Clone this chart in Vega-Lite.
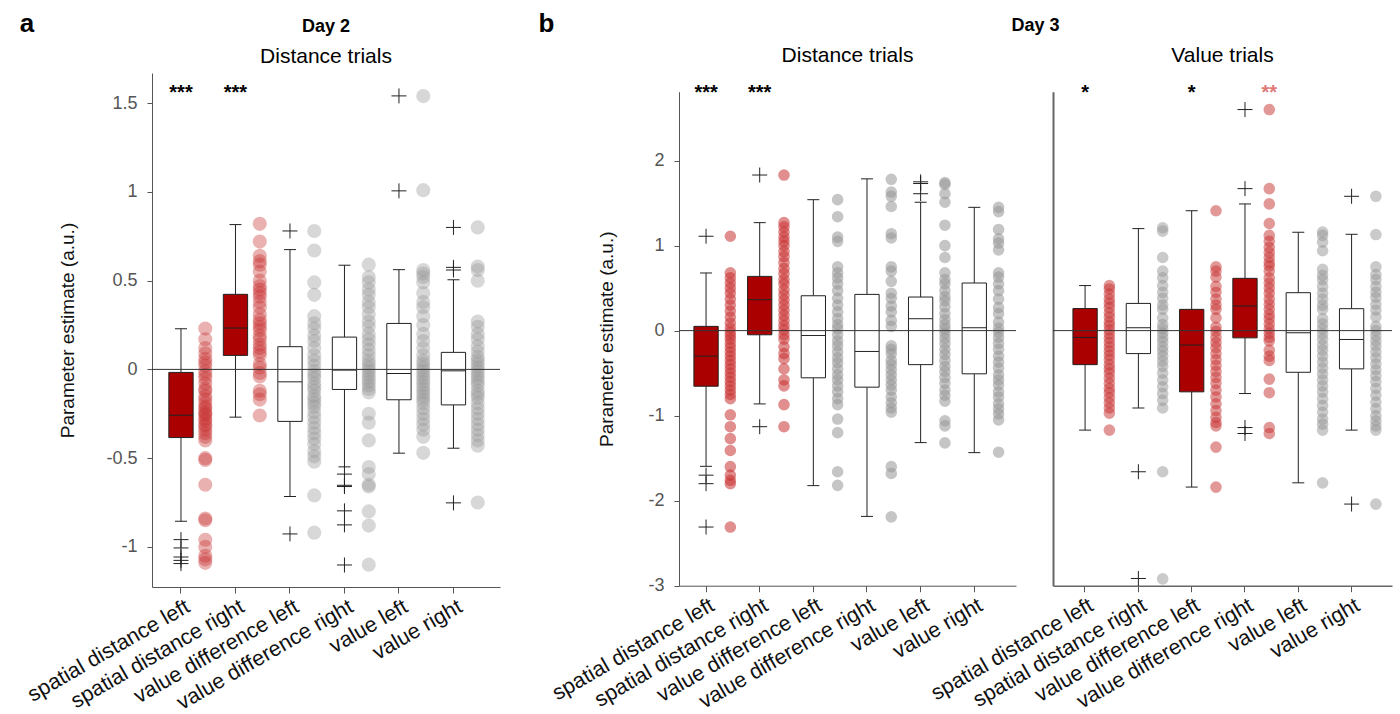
{
"$schema": "https://vega.github.io/schema/vega-lite/v6.json",
"background": "white",
"padding": {"left": 19, "top": 11, "right": 5, "bottom": 2},
"config": {"font": "Liberation Sans", "view": {"stroke": null}, "axis": {"grid": false, "labelLimit": 400}},
"datasets": {
"d2box": [
{"t":"SDL","lo":-0.856,"q1":-0.384,"med":-0.258,"q3":-0.017,"hi":0.229,"sig":"yes"},
{"t":"SDR","lo":-0.269,"q1":0.079,"med":0.233,"q3":0.423,"hi":0.816,"sig":"yes"},
{"t":"VDL","lo":-0.716,"q1":-0.293,"med":-0.07,"q3":0.128,"hi":0.675,"sig":"no"},
{"t":"VDR","lo":-0.549,"q1":-0.113,"med":-0.004,"q3":0.182,"hi":0.587,"sig":"no"},
{"t":"VL","lo":-0.472,"q1":-0.171,"med":-0.023,"q3":0.259,"hi":0.562,"sig":"no"},
{"t":"VR","lo":-0.444,"q1":-0.2,"med":-0.008,"q3":0.096,"hi":0.505,"sig":"no"}],
"d2out": [
{"t":"SDL","v":-0.959},{"t":"SDL","v":-1.006},{"t":"SDL","v":-1.057},{"t":"SDL","v":-1.076},{"t":"SDL","v":-1.094},
{"t":"VDL","v":0.78},{"t":"VDL","v":-0.927},
{"t":"VDR","v":-0.59},{"t":"VDR","v":-0.653},{"t":"VDR","v":-0.66},{"t":"VDR","v":-0.797},{"t":"VDR","v":-0.876},{"t":"VDR","v":-1.102},
{"t":"VL","v":1.541},{"t":"VL","v":1.006},
{"t":"VR","v":0.80},{"t":"VR","v":0.575},{"t":"VR","v":0.56},{"t":"VR","v":-0.752}],
"d2stars": [{"t":"SDL","pos":"box","s":"***"},{"t":"SDR","pos":"box","s":"***"}],
"d2dots": [
{"t":"SDL","v":0.23},{"t":"SDL","v":0.17},{"t":"SDL","v":0.12},{"t":"SDL","v":0.09},{"t":"SDL","v":0.06},{"t":"SDL","v":0.04},{"t":"SDL","v":0.02},{"t":"SDL","v":-0.01},{"t":"SDL","v":-0.03},{"t":"SDL","v":-0.05},{"t":"SDL","v":-0.08},{"t":"SDL","v":-0.11},{"t":"SDL","v":-0.12},{"t":"SDL","v":-0.15},{"t":"SDL","v":-0.17},{"t":"SDL","v":-0.19},{"t":"SDL","v":-0.21},{"t":"SDL","v":-0.22},{"t":"SDL","v":-0.24},{"t":"SDL","v":-0.25},{"t":"SDL","v":-0.26},{"t":"SDL","v":-0.28},{"t":"SDL","v":-0.29},{"t":"SDL","v":-0.31},{"t":"SDL","v":-0.32},{"t":"SDL","v":-0.34},{"t":"SDL","v":-0.36},{"t":"SDL","v":-0.38},{"t":"SDL","v":-0.40},{"t":"SDL","v":-0.50},{"t":"SDL","v":-0.51},{"t":"SDL","v":-0.65},{"t":"SDL","v":-0.84},{"t":"SDL","v":-0.85},{"t":"SDL","v":-0.96},{"t":"SDL","v":-1.0},{"t":"SDL","v":-1.05},{"t":"SDL","v":-1.07},{"t":"SDL","v":-1.09},
{"t":"SDR","v":0.82},{"t":"SDR","v":0.72},{"t":"SDR","v":0.64},{"t":"SDR","v":0.61},{"t":"SDR","v":0.59},{"t":"SDR","v":0.55},{"t":"SDR","v":0.50},{"t":"SDR","v":0.47},{"t":"SDR","v":0.45},{"t":"SDR","v":0.43},{"t":"SDR","v":0.41},{"t":"SDR","v":0.38},{"t":"SDR","v":0.35},{"t":"SDR","v":0.31},{"t":"SDR","v":0.28},{"t":"SDR","v":0.26},{"t":"SDR","v":0.24},{"t":"SDR","v":0.22},{"t":"SDR","v":0.19},{"t":"SDR","v":0.17},{"t":"SDR","v":0.14},{"t":"SDR","v":0.12},{"t":"SDR","v":0.10},{"t":"SDR","v":0.08},{"t":"SDR","v":0.03},{"t":"SDR","v":0.01},{"t":"SDR","v":-0.02},{"t":"SDR","v":-0.04},{"t":"SDR","v":-0.12},{"t":"SDR","v":-0.14},{"t":"SDR","v":-0.17},{"t":"SDR","v":-0.26},
{"t":"VDL","v":0.78},{"t":"VDL","v":0.67},{"t":"VDL","v":0.49},{"t":"VDL","v":0.42},{"t":"VDL","v":0.30},{"t":"VDL","v":0.26},{"t":"VDL","v":0.23},{"t":"VDL","v":0.19},{"t":"VDL","v":0.16},{"t":"VDL","v":0.12},{"t":"VDL","v":0.08},{"t":"VDL","v":0.05},{"t":"VDL","v":0.02},{"t":"VDL","v":-0.01},{"t":"VDL","v":-0.03},{"t":"VDL","v":-0.05},{"t":"VDL","v":-0.08},{"t":"VDL","v":-0.10},{"t":"VDL","v":-0.12},{"t":"VDL","v":-0.15},{"t":"VDL","v":-0.17},{"t":"VDL","v":-0.19},{"t":"VDL","v":-0.21},{"t":"VDL","v":-0.24},{"t":"VDL","v":-0.27},{"t":"VDL","v":-0.30},{"t":"VDL","v":-0.33},{"t":"VDL","v":-0.36},{"t":"VDL","v":-0.39},{"t":"VDL","v":-0.42},{"t":"VDL","v":-0.46},{"t":"VDL","v":-0.49},{"t":"VDL","v":-0.52},{"t":"VDL","v":-0.71},{"t":"VDL","v":-0.92},
{"t":"VDR","v":0.59},{"t":"VDR","v":0.52},{"t":"VDR","v":0.49},{"t":"VDR","v":0.45},{"t":"VDR","v":0.42},{"t":"VDR","v":0.38},{"t":"VDR","v":0.35},{"t":"VDR","v":0.31},{"t":"VDR","v":0.27},{"t":"VDR","v":0.24},{"t":"VDR","v":0.20},{"t":"VDR","v":0.17},{"t":"VDR","v":0.14},{"t":"VDR","v":0.11},{"t":"VDR","v":0.08},{"t":"VDR","v":0.05},{"t":"VDR","v":0.03},{"t":"VDR","v":0.01},{"t":"VDR","v":-0.01},{"t":"VDR","v":-0.03},{"t":"VDR","v":-0.05},{"t":"VDR","v":-0.07},{"t":"VDR","v":-0.09},{"t":"VDR","v":-0.11},{"t":"VDR","v":-0.13},{"t":"VDR","v":-0.25},{"t":"VDR","v":-0.30},{"t":"VDR","v":-0.40},{"t":"VDR","v":-0.55},{"t":"VDR","v":-0.59},{"t":"VDR","v":-0.65},{"t":"VDR","v":-0.66},{"t":"VDR","v":-0.80},{"t":"VDR","v":-0.88},{"t":"VDR","v":-1.10},
{"t":"VL","v":1.54},{"t":"VL","v":1.01},{"t":"VL","v":0.56},{"t":"VL","v":0.54},{"t":"VL","v":0.52},{"t":"VL","v":0.49},{"t":"VL","v":0.43},{"t":"VL","v":0.38},{"t":"VL","v":0.35},{"t":"VL","v":0.30},{"t":"VL","v":0.25},{"t":"VL","v":0.20},{"t":"VL","v":0.16},{"t":"VL","v":0.12},{"t":"VL","v":0.08},{"t":"VL","v":0.05},{"t":"VL","v":0.03},{"t":"VL","v":0.01},{"t":"VL","v":-0.01},{"t":"VL","v":-0.03},{"t":"VL","v":-0.05},{"t":"VL","v":-0.07},{"t":"VL","v":-0.09},{"t":"VL","v":-0.11},{"t":"VL","v":-0.13},{"t":"VL","v":-0.15},{"t":"VL","v":-0.17},{"t":"VL","v":-0.19},{"t":"VL","v":-0.22},{"t":"VL","v":-0.25},{"t":"VL","v":-0.28},{"t":"VL","v":-0.31},{"t":"VL","v":-0.34},{"t":"VL","v":-0.38},{"t":"VL","v":-0.47},
{"t":"VR","v":0.80},{"t":"VR","v":0.58},{"t":"VR","v":0.56},{"t":"VR","v":0.50},{"t":"VR","v":0.27},{"t":"VR","v":0.24},{"t":"VR","v":0.20},{"t":"VR","v":0.17},{"t":"VR","v":0.13},{"t":"VR","v":0.10},{"t":"VR","v":0.07},{"t":"VR","v":0.05},{"t":"VR","v":0.03},{"t":"VR","v":0.01},{"t":"VR","v":-0.01},{"t":"VR","v":-0.03},{"t":"VR","v":-0.05},{"t":"VR","v":-0.07},{"t":"VR","v":-0.09},{"t":"VR","v":-0.12},{"t":"VR","v":-0.14},{"t":"VR","v":-0.16},{"t":"VR","v":-0.19},{"t":"VR","v":-0.22},{"t":"VR","v":-0.25},{"t":"VR","v":-0.28},{"t":"VR","v":-0.31},{"t":"VR","v":-0.34},{"t":"VR","v":-0.37},{"t":"VR","v":-0.40},{"t":"VR","v":-0.43},{"t":"VR","v":-0.75}],
"d3dbox": [
{"t":"SDL","lo":-1.596,"q1":-0.654,"med":-0.30,"q3":0.05,"hi":0.678,"sig":"yes"},
{"t":"SDR","lo":-0.862,"q1":-0.049,"med":0.364,"q3":0.638,"hi":1.27,"sig":"yes"},
{"t":"VDL","lo":-1.823,"q1":-0.555,"med":-0.057,"q3":0.41,"hi":1.54,"sig":"no"},
{"t":"VDR","lo":-2.185,"q1":-0.665,"med":-0.245,"q3":0.426,"hi":1.785,"sig":"no"},
{"t":"VL","lo":-1.317,"q1":-0.40,"med":0.14,"q3":0.395,"hi":1.51,"sig":"no"},
{"t":"VR","lo":-1.435,"q1":-0.508,"med":0.034,"q3":0.56,"hi":1.45,"sig":"no"}],
"d3dout": [
{"t":"SDL","v":1.11},{"t":"SDL","v":-1.70},{"t":"SDL","v":-1.80},{"t":"SDL","v":-2.31},
{"t":"SDR","v":1.83},{"t":"SDR","v":-1.13},
{"t":"VL","v":1.75},{"t":"VL","v":1.73},{"t":"VL","v":1.61}],
"d3dstars": [{"t":"SDL","pos":"box","s":"***"},{"t":"SDR","pos":"box","s":"***"}],
"d3ddots": [
{"t":"SDL","v":1.11},{"t":"SDL","v":0.68},{"t":"SDL","v":0.62},{"t":"SDL","v":0.56},{"t":"SDL","v":0.50},{"t":"SDL","v":0.44},{"t":"SDL","v":0.37},{"t":"SDL","v":0.30},{"t":"SDL","v":0.23},{"t":"SDL","v":0.16},{"t":"SDL","v":0.09},{"t":"SDL","v":0.03},{"t":"SDL","v":-0.02},{"t":"SDL","v":-0.06},{"t":"SDL","v":-0.10},{"t":"SDL","v":-0.15},{"t":"SDL","v":-0.20},{"t":"SDL","v":-0.25},{"t":"SDL","v":-0.30},{"t":"SDL","v":-0.35},{"t":"SDL","v":-0.40},{"t":"SDL","v":-0.45},{"t":"SDL","v":-0.50},{"t":"SDL","v":-0.55},{"t":"SDL","v":-0.60},{"t":"SDL","v":-0.65},{"t":"SDL","v":-0.70},{"t":"SDL","v":-0.75},{"t":"SDL","v":-0.80},{"t":"SDL","v":-0.99},{"t":"SDL","v":-1.13},{"t":"SDL","v":-1.27},{"t":"SDL","v":-1.41},{"t":"SDL","v":-1.60},{"t":"SDL","v":-1.70},{"t":"SDL","v":-1.76},{"t":"SDL","v":-1.80},{"t":"SDL","v":-2.31},
{"t":"SDR","v":1.83},{"t":"SDR","v":1.27},{"t":"SDR","v":1.22},{"t":"SDR","v":1.16},{"t":"SDR","v":1.10},{"t":"SDR","v":1.05},{"t":"SDR","v":1.00},{"t":"SDR","v":0.93},{"t":"SDR","v":0.87},{"t":"SDR","v":0.80},{"t":"SDR","v":0.73},{"t":"SDR","v":0.67},{"t":"SDR","v":0.60},{"t":"SDR","v":0.55},{"t":"SDR","v":0.48},{"t":"SDR","v":0.42},{"t":"SDR","v":0.36},{"t":"SDR","v":0.30},{"t":"SDR","v":0.24},{"t":"SDR","v":0.18},{"t":"SDR","v":0.12},{"t":"SDR","v":0.06},{"t":"SDR","v":0.01},{"t":"SDR","v":-0.05},{"t":"SDR","v":-0.10},{"t":"SDR","v":-0.19},{"t":"SDR","v":-0.27},{"t":"SDR","v":-0.33},{"t":"SDR","v":-0.45},{"t":"SDR","v":-0.58},{"t":"SDR","v":-0.65},{"t":"SDR","v":-0.87},{"t":"SDR","v":-1.13},
{"t":"VDL","v":1.54},{"t":"VDL","v":1.34},{"t":"VDL","v":1.10},{"t":"VDL","v":1.05},{"t":"VDL","v":0.75},{"t":"VDL","v":0.68},{"t":"VDL","v":0.62},{"t":"VDL","v":0.55},{"t":"VDL","v":0.47},{"t":"VDL","v":0.38},{"t":"VDL","v":0.30},{"t":"VDL","v":0.22},{"t":"VDL","v":0.14},{"t":"VDL","v":0.07},{"t":"VDL","v":0.02},{"t":"VDL","v":-0.05},{"t":"VDL","v":-0.12},{"t":"VDL","v":-0.18},{"t":"VDL","v":-0.25},{"t":"VDL","v":-0.32},{"t":"VDL","v":-0.38},{"t":"VDL","v":-0.45},{"t":"VDL","v":-0.52},{"t":"VDL","v":-0.58},{"t":"VDL","v":-0.65},{"t":"VDL","v":-0.72},{"t":"VDL","v":-0.80},{"t":"VDL","v":-0.87},{"t":"VDL","v":-1.04},{"t":"VDL","v":-1.20},{"t":"VDL","v":-1.66},{"t":"VDL","v":-1.82},
{"t":"VDR","v":1.78},{"t":"VDR","v":1.63},{"t":"VDR","v":1.58},{"t":"VDR","v":1.46},{"t":"VDR","v":1.14},{"t":"VDR","v":1.09},{"t":"VDR","v":0.75},{"t":"VDR","v":0.70},{"t":"VDR","v":0.58},{"t":"VDR","v":0.44},{"t":"VDR","v":0.38},{"t":"VDR","v":0.29},{"t":"VDR","v":0.22},{"t":"VDR","v":0.12},{"t":"VDR","v":0.05},{"t":"VDR","v":-0.18},{"t":"VDR","v":-0.22},{"t":"VDR","v":-0.27},{"t":"VDR","v":-0.35},{"t":"VDR","v":-0.40},{"t":"VDR","v":-0.46},{"t":"VDR","v":-0.52},{"t":"VDR","v":-0.58},{"t":"VDR","v":-0.64},{"t":"VDR","v":-0.70},{"t":"VDR","v":-0.78},{"t":"VDR","v":-0.85},{"t":"VDR","v":-0.91},{"t":"VDR","v":-0.96},{"t":"VDR","v":-1.60},{"t":"VDR","v":-1.68},{"t":"VDR","v":-2.19},
{"t":"VL","v":1.74},{"t":"VL","v":1.72},{"t":"VL","v":1.61},{"t":"VL","v":1.51},{"t":"VL","v":1.24},{"t":"VL","v":1.00},{"t":"VL","v":0.86},{"t":"VL","v":0.68},{"t":"VL","v":0.60},{"t":"VL","v":0.55},{"t":"VL","v":0.47},{"t":"VL","v":0.40},{"t":"VL","v":0.35},{"t":"VL","v":0.28},{"t":"VL","v":0.20},{"t":"VL","v":0.13},{"t":"VL","v":0.07},{"t":"VL","v":0.02},{"t":"VL","v":-0.03},{"t":"VL","v":-0.09},{"t":"VL","v":-0.15},{"t":"VL","v":-0.22},{"t":"VL","v":-0.28},{"t":"VL","v":-0.35},{"t":"VL","v":-0.42},{"t":"VL","v":-0.48},{"t":"VL","v":-0.55},{"t":"VL","v":-0.62},{"t":"VL","v":-0.70},{"t":"VL","v":-0.76},{"t":"VL","v":-0.83},{"t":"VL","v":-1.06},{"t":"VL","v":-1.12},{"t":"VL","v":-1.32},
{"t":"VR","v":1.45},{"t":"VR","v":1.40},{"t":"VR","v":1.19},{"t":"VR","v":1.08},{"t":"VR","v":1.03},{"t":"VR","v":0.95},{"t":"VR","v":0.68},{"t":"VR","v":0.63},{"t":"VR","v":0.55},{"t":"VR","v":0.47},{"t":"VR","v":0.37},{"t":"VR","v":0.27},{"t":"VR","v":0.20},{"t":"VR","v":0.10},{"t":"VR","v":0.03},{"t":"VR","v":-0.02},{"t":"VR","v":-0.08},{"t":"VR","v":-0.15},{"t":"VR","v":-0.22},{"t":"VR","v":-0.30},{"t":"VR","v":-0.37},{"t":"VR","v":-0.44},{"t":"VR","v":-0.52},{"t":"VR","v":-0.58},{"t":"VR","v":-0.64},{"t":"VR","v":-0.72},{"t":"VR","v":-0.78},{"t":"VR","v":-0.86},{"t":"VR","v":-0.92},{"t":"VR","v":-0.98},{"t":"VR","v":-1.05},{"t":"VR","v":-1.43}],
"d3vbox": [
{"t":"SDL","lo":-1.17,"q1":-0.40,"med":-0.08,"q3":0.26,"hi":0.53,"sig":"yes"},
{"t":"SDR","lo":-0.91,"q1":-0.27,"med":0.034,"q3":0.32,"hi":1.20,"sig":"no"},
{"t":"VDL","lo":-1.84,"q1":-0.72,"med":-0.17,"q3":0.25,"hi":1.41,"sig":"yes"},
{"t":"VDR","lo":-0.74,"q1":-0.085,"med":0.29,"q3":0.615,"hi":1.49,"sig":"yes"},
{"t":"VL","lo":-1.79,"q1":-0.49,"med":-0.025,"q3":0.446,"hi":1.157,"sig":"no"},
{"t":"VR","lo":-1.17,"q1":-0.45,"med":-0.104,"q3":0.258,"hi":1.133,"sig":"no"}],
"d3vout": [
{"t":"SDR","v":-1.66},{"t":"SDR","v":-2.915},
{"t":"VDR","v":2.60},{"t":"VDR","v":1.67},{"t":"VDR","v":-1.14},{"t":"VDR","v":-1.21},
{"t":"VR","v":1.58},{"t":"VR","v":-2.04}],
"d3vstars": [{"t":"SDL","pos":"box","s":"*"},{"t":"VDL","pos":"box","s":"*"},{"t":"VDR","pos":"dots","s":"**"}],
"d3vdots": [
{"t":"SDL","v":0.53},{"t":"SDL","v":0.49},{"t":"SDL","v":0.43},{"t":"SDL","v":0.37},{"t":"SDL","v":0.32},{"t":"SDL","v":0.27},{"t":"SDL","v":0.21},{"t":"SDL","v":0.16},{"t":"SDL","v":0.10},{"t":"SDL","v":0.06},{"t":"SDL","v":0.01},{"t":"SDL","v":-0.04},{"t":"SDL","v":-0.09},{"t":"SDL","v":-0.14},{"t":"SDL","v":-0.19},{"t":"SDL","v":-0.24},{"t":"SDL","v":-0.29},{"t":"SDL","v":-0.34},{"t":"SDL","v":-0.40},{"t":"SDL","v":-0.45},{"t":"SDL","v":-0.50},{"t":"SDL","v":-0.56},{"t":"SDL","v":-0.62},{"t":"SDL","v":-0.68},{"t":"SDL","v":-0.73},{"t":"SDL","v":-0.79},{"t":"SDL","v":-0.85},{"t":"SDL","v":-0.91},{"t":"SDL","v":-0.97},{"t":"SDL","v":-1.17},
{"t":"SDR","v":1.21},{"t":"SDR","v":1.17},{"t":"SDR","v":0.86},{"t":"SDR","v":0.70},{"t":"SDR","v":0.62},{"t":"SDR","v":0.53},{"t":"SDR","v":0.45},{"t":"SDR","v":0.38},{"t":"SDR","v":0.30},{"t":"SDR","v":0.25},{"t":"SDR","v":0.15},{"t":"SDR","v":0.07},{"t":"SDR","v":0.02},{"t":"SDR","v":-0.03},{"t":"SDR","v":-0.08},{"t":"SDR","v":-0.13},{"t":"SDR","v":-0.19},{"t":"SDR","v":-0.24},{"t":"SDR","v":-0.30},{"t":"SDR","v":-0.36},{"t":"SDR","v":-0.42},{"t":"SDR","v":-0.50},{"t":"SDR","v":-0.58},{"t":"SDR","v":-0.66},{"t":"SDR","v":-0.74},{"t":"SDR","v":-0.82},{"t":"SDR","v":-0.91},{"t":"SDR","v":-1.66},{"t":"SDR","v":-2.92},
{"t":"VDL","v":1.41},{"t":"VDL","v":0.75},{"t":"VDL","v":0.70},{"t":"VDL","v":0.63},{"t":"VDL","v":0.52},{"t":"VDL","v":0.45},{"t":"VDL","v":0.37},{"t":"VDL","v":0.30},{"t":"VDL","v":0.25},{"t":"VDL","v":0.15},{"t":"VDL","v":0.04},{"t":"VDL","v":-0.01},{"t":"VDL","v":-0.08},{"t":"VDL","v":-0.14},{"t":"VDL","v":-0.20},{"t":"VDL","v":-0.27},{"t":"VDL","v":-0.34},{"t":"VDL","v":-0.41},{"t":"VDL","v":-0.48},{"t":"VDL","v":-0.55},{"t":"VDL","v":-0.62},{"t":"VDL","v":-0.70},{"t":"VDL","v":-0.78},{"t":"VDL","v":-0.86},{"t":"VDL","v":-0.94},{"t":"VDL","v":-1.02},{"t":"VDL","v":-1.08},{"t":"VDL","v":-1.12},{"t":"VDL","v":-1.37},{"t":"VDL","v":-1.84},
{"t":"VDR","v":2.60},{"t":"VDR","v":1.67},{"t":"VDR","v":1.49},{"t":"VDR","v":1.26},{"t":"VDR","v":1.12},{"t":"VDR","v":1.05},{"t":"VDR","v":0.98},{"t":"VDR","v":0.92},{"t":"VDR","v":0.86},{"t":"VDR","v":0.80},{"t":"VDR","v":0.76},{"t":"VDR","v":0.70},{"t":"VDR","v":0.62},{"t":"VDR","v":0.56},{"t":"VDR","v":0.50},{"t":"VDR","v":0.44},{"t":"VDR","v":0.37},{"t":"VDR","v":0.31},{"t":"VDR","v":0.25},{"t":"VDR","v":0.19},{"t":"VDR","v":0.14},{"t":"VDR","v":0.08},{"t":"VDR","v":0.02},{"t":"VDR","v":-0.03},{"t":"VDR","v":-0.08},{"t":"VDR","v":-0.12},{"t":"VDR","v":-0.23},{"t":"VDR","v":-0.30},{"t":"VDR","v":-0.35},{"t":"VDR","v":-0.57},{"t":"VDR","v":-0.73},{"t":"VDR","v":-1.14},{"t":"VDR","v":-1.21},
{"t":"VL","v":1.16},{"t":"VL","v":1.12},{"t":"VL","v":1.04},{"t":"VL","v":0.94},{"t":"VL","v":0.72},{"t":"VL","v":0.65},{"t":"VL","v":0.60},{"t":"VL","v":0.52},{"t":"VL","v":0.44},{"t":"VL","v":0.37},{"t":"VL","v":0.30},{"t":"VL","v":0.25},{"t":"VL","v":0.14},{"t":"VL","v":0.08},{"t":"VL","v":0.02},{"t":"VL","v":-0.04},{"t":"VL","v":-0.10},{"t":"VL","v":-0.17},{"t":"VL","v":-0.23},{"t":"VL","v":-0.30},{"t":"VL","v":-0.37},{"t":"VL","v":-0.44},{"t":"VL","v":-0.51},{"t":"VL","v":-0.58},{"t":"VL","v":-0.65},{"t":"VL","v":-0.72},{"t":"VL","v":-0.80},{"t":"VL","v":-0.88},{"t":"VL","v":-0.96},{"t":"VL","v":-1.04},{"t":"VL","v":-1.10},{"t":"VL","v":-1.17},{"t":"VL","v":-1.79},
{"t":"VR","v":1.58},{"t":"VR","v":1.13},{"t":"VR","v":0.75},{"t":"VR","v":0.66},{"t":"VR","v":0.60},{"t":"VR","v":0.52},{"t":"VR","v":0.45},{"t":"VR","v":0.39},{"t":"VR","v":0.31},{"t":"VR","v":0.24},{"t":"VR","v":0.16},{"t":"VR","v":0.05},{"t":"VR","v":0.0},{"t":"VR","v":-0.06},{"t":"VR","v":-0.12},{"t":"VR","v":-0.18},{"t":"VR","v":-0.25},{"t":"VR","v":-0.32},{"t":"VR","v":-0.39},{"t":"VR","v":-0.46},{"t":"VR","v":-0.53},{"t":"VR","v":-0.60},{"t":"VR","v":-0.68},{"t":"VR","v":-0.76},{"t":"VR","v":-0.84},{"t":"VR","v":-0.92},{"t":"VR","v":-1.00},{"t":"VR","v":-1.06},{"t":"VR","v":-1.12},{"t":"VR","v":-1.17},{"t":"VR","v":-2.04}]
},
"spacing": 37,
"hconcat": [
{
"title": {"text": "a", "anchor": "start", "frame": "bounds", "fontSize": 26, "fontWeight": "bold", "color": "#000", "baseline": "alphabetic", "offset": 0, "dy": 40, "dx": -4},
"hconcat": [
{
"width": 348, "height": 514,
"title": {"text": "Day 2", "subtitle": "Distance trials", "anchor": "middle", "frame": "group", "fontSize": 18, "fontWeight": "bold", "color": "#000", "subtitleFontSize": 21, "subtitleColor": "#000", "subtitlePadding": 10, "offset": 6},
"resolve": {"scale": {"color": "independent"}},
"layer": [
{"data": {"name": "d2box"}, "mark": {"type": "rule", "color": "#222", "strokeWidth": 1},
 "encoding": {
  "x": {"field": "t", "type": "nominal", "scale": {"domain": ["SDL","SDR","VDL","VDR","VL","VR"], "paddingInner": 0, "paddingOuter": 0.193, "align": 0.66},
        "axis": {"title": null, "bandPosition": 0.277, "labelAngle": -30, "labelAlign": "right", "labelBaseline": "middle", "labelFontSize": 21.5, "labelColor": "#111", "labelPadding": 12, "labelOffset": -5, "tickSize": 6, "tickColor": "#555", "domainColor": "#555", "labelExpr": "datum.value=='SDL'?'spatial distance left':datum.value=='SDR'?'spatial distance right':datum.value=='VDL'?'value difference left':datum.value=='VDR'?'value difference right':datum.value=='VL'?'value left':'value right'"}},
  "xOffset": {"datum": "box", "scale": {"domain": ["box","dots"], "paddingInner": 0, "paddingOuter": 0.1215}},
  "y": {"field": "lo", "type": "quantitative", "scale": {"domain": [-1.226, 1.67], "nice": false, "zero": false},
        "axis": {"title": "Parameter estimate (a.u.)", "values": [-1,-0.5,0,0.5,1,1.5], "labelExpr": "'' + datum.value", "titleFontSize": 19, "titleFontWeight": "normal", "titleColor": "#111", "titlePadding": 28, "labelFontSize": 18, "labelColor": "#555", "labelPadding": 10, "tickSize": 5, "tickColor": "#555", "domainColor": "#555"}},
  "y2": {"field": "q1"}}},
{"data": {"name": "d2box"}, "mark": {"type": "rule", "color": "#222", "strokeWidth": 1},
 "encoding": {"x": {"field": "t", "type": "nominal"}, "xOffset": {"datum": "box"}, "y": {"field": "q3", "type": "quantitative"}, "y2": {"field": "hi"}}},
{"data": {"name": "d2box"}, "mark": {"type": "tick", "color": "#222", "size": 12, "thickness": 1, "opacity": 1},
 "encoding": {"x": {"field": "t", "type": "nominal"}, "xOffset": {"datum": "box"}, "y": {"field": "lo", "type": "quantitative"}}},
{"data": {"name": "d2box"}, "mark": {"type": "tick", "color": "#222", "size": 12, "thickness": 1, "opacity": 1},
 "encoding": {"x": {"field": "t", "type": "nominal"}, "xOffset": {"datum": "box"}, "y": {"field": "hi", "type": "quantitative"}}},
{"data": {"name": "d2box"}, "mark": {"type": "bar", "stroke": "#222", "strokeWidth": 1, "opacity": 1},
 "encoding": {"x": {"field": "t", "type": "nominal"}, "xOffset": {"datum": "box"}, "y": {"field": "q1", "type": "quantitative"}, "y2": {"field": "q3"},
  "fill": {"field": "sig", "type": "nominal", "scale": {"domain": ["yes","no"], "range": ["#aa0000","#ffffff"]}, "legend": null}}},
{"data": {"name": "d2box"}, "mark": {"type": "tick", "color": "#222", "size": 24, "thickness": 1, "opacity": 1},
 "encoding": {"x": {"field": "t", "type": "nominal"}, "xOffset": {"datum": "box"}, "y": {"field": "med", "type": "quantitative"}}},
{"data": {"name": "d2out"}, "mark": {"type": "point", "shape": "M-1,0H1M0,-1V1", "size": 225, "stroke": "#222", "strokeWidth": 1, "filled": false, "opacity": 1},
 "encoding": {"x": {"field": "t", "type": "nominal"}, "xOffset": {"datum": "box"}, "y": {"field": "v", "type": "quantitative"}}},
{"data": {"name": "d2dots"}, "transform": [{"lookup": "t", "from": {"data": {"name": "d2box"}, "key": "t", "fields": ["sig"]}}],
 "mark": {"type": "circle", "size": 200, "opacity": 0.38},
 "encoding": {"x": {"field": "t", "type": "nominal"}, "xOffset": {"datum": "dots"}, "y": {"field": "v", "type": "quantitative"},
  "color": {"field": "sig", "type": "nominal", "scale": {"domain": ["yes","no"], "range": ["#c83232","#969696"]}, "legend": null}}},
{"data": {"values": [{"ref": 0}]}, "mark": {"type": "rule", "color": "#333", "strokeWidth": 1},
 "encoding": {"y": {"field": "ref", "type": "quantitative"}}},
{"data": {"name": "d2stars"}, "mark": {"type": "text", "fontSize": 20, "fontWeight": "bold", "baseline": "middle"},
 "encoding": {"x": {"field": "t", "type": "nominal"}, "xOffset": {"field": "pos"}, "y": {"datum": 1.556}, "text": {"field": "s"},
  "color": {"field": "pos", "type": "nominal", "scale": {"domain": ["box","dots"], "range": ["#000000","#e07878"]}, "legend": null}}}
]
}
]
},
{
"title": {"text": "b", "anchor": "start", "frame": "bounds", "fontSize": 26, "fontWeight": "bold", "color": "#000", "baseline": "alphabetic", "offset": 0, "dy": 41, "dx": -10},
"hconcat": [
{
"title": {"text": "Day 3", "anchor": "middle", "frame": "bounds", "fontSize": 18, "fontWeight": "bold", "color": "#000", "offset": 10, "dx": 65},
"bounds": "flush",
"spacing": 37,
"hconcat": [
{
"width": 337, "height": 512.7,
"title": {"text": "Distance trials", "anchor": "middle", "frame": "group", "fontSize": 21, "fontWeight": "normal", "color": "#000", "offset": 7},
"resolve": {"scale": {"color": "independent"}},
"layer": [
{"data": {"name": "d3dbox"}, "mark": {"type": "rule", "color": "#222", "strokeWidth": 1},
 "encoding": {
  "x": {"field": "t", "type": "nominal", "scale": {"domain": ["SDL","SDR","VDL","VDR","VL","VR"], "paddingInner": 0, "paddingOuter": 0.141, "align": 0.79},
        "axis": {"title": null, "bandPosition": 0.2806, "labelAngle": -30, "labelAlign": "right", "labelBaseline": "middle", "labelFontSize": 21.5, "labelColor": "#111", "labelPadding": 12, "labelOffset": -5, "tickSize": 6, "tickColor": "#555", "domainColor": "#555", "labelExpr": "datum.value=='SDL'?'spatial distance left':datum.value=='SDR'?'spatial distance right':datum.value=='VDL'?'value difference left':datum.value=='VDR'?'value difference right':datum.value=='VL'?'value left':'value right'"}},
  "xOffset": {"datum": "box", "scale": {"domain": ["box","dots"], "paddingInner": 0, "paddingOuter": 0.14}},
  "y": {"field": "lo", "type": "quantitative", "scale": {"domain": [-3, 2.81], "range": [512.7, 18.7], "nice": false, "zero": false},
        "axis": {"title": "Parameter estimate (a.u.)", "values": [-3,-2,-1,0,1,2], "labelExpr": "'' + datum.value", "titleFontSize": 19, "titleFontWeight": "normal", "titleColor": "#111", "titlePadding": 31, "labelFontSize": 18, "labelColor": "#555", "labelPadding": 10, "tickSize": 5, "tickColor": "#555", "domainColor": "#555"}},
  "y2": {"field": "q1"}}},
{"data": {"name": "d3dbox"}, "mark": {"type": "rule", "color": "#222", "strokeWidth": 1},
 "encoding": {"x": {"field": "t", "type": "nominal"}, "xOffset": {"datum": "box"}, "y": {"field": "q3", "type": "quantitative"}, "y2": {"field": "hi"}}},
{"data": {"name": "d3dbox"}, "mark": {"type": "tick", "color": "#222", "size": 12, "thickness": 1, "opacity": 1},
 "encoding": {"x": {"field": "t", "type": "nominal"}, "xOffset": {"datum": "box"}, "y": {"field": "lo", "type": "quantitative"}}},
{"data": {"name": "d3dbox"}, "mark": {"type": "tick", "color": "#222", "size": 12, "thickness": 1, "opacity": 1},
 "encoding": {"x": {"field": "t", "type": "nominal"}, "xOffset": {"datum": "box"}, "y": {"field": "hi", "type": "quantitative"}}},
{"data": {"name": "d3dbox"}, "mark": {"type": "bar", "stroke": "#222", "strokeWidth": 1, "opacity": 1},
 "encoding": {"x": {"field": "t", "type": "nominal"}, "xOffset": {"datum": "box"}, "y": {"field": "q1", "type": "quantitative"}, "y2": {"field": "q3"},
  "fill": {"field": "sig", "type": "nominal", "scale": {"domain": ["yes","no"], "range": ["#aa0000","#ffffff"]}, "legend": null}}},
{"data": {"name": "d3dbox"}, "mark": {"type": "tick", "color": "#222", "size": 24, "thickness": 1, "opacity": 1},
 "encoding": {"x": {"field": "t", "type": "nominal"}, "xOffset": {"datum": "box"}, "y": {"field": "med", "type": "quantitative"}}},
{"data": {"name": "d3dout"}, "mark": {"type": "point", "shape": "M-1,0H1M0,-1V1", "size": 225, "stroke": "#222", "strokeWidth": 1, "filled": false, "opacity": 1},
 "encoding": {"x": {"field": "t", "type": "nominal"}, "xOffset": {"datum": "box"}, "y": {"field": "v", "type": "quantitative"}}},
{"data": {"name": "d3ddots"}, "transform": [{"lookup": "t", "from": {"data": {"name": "d3dbox"}, "key": "t", "fields": ["sig"]}}],
 "mark": {"type": "circle", "size": 135, "opacity": 0.55},
 "encoding": {"x": {"field": "t", "type": "nominal"}, "xOffset": {"datum": "dots"}, "y": {"field": "v", "type": "quantitative"},
  "color": {"field": "sig", "type": "nominal", "scale": {"domain": ["yes","no"], "range": ["#c83232","#969696"]}, "legend": null}}},
{"data": {"values": [{"ref": 0}]}, "mark": {"type": "rule", "color": "#333", "strokeWidth": 1},
 "encoding": {"y": {"field": "ref", "type": "quantitative"}}},
{"data": {"name": "d3dstars"}, "mark": {"type": "text", "fontSize": 20, "fontWeight": "bold", "baseline": "middle"},
 "encoding": {"x": {"field": "t", "type": "nominal"}, "xOffset": {"field": "pos"}, "y": {"datum": 2.79}, "text": {"field": "s"},
  "color": {"field": "pos", "type": "nominal", "scale": {"domain": ["box","dots"], "range": ["#000000","#e07878"]}, "legend": null}}}
]
},
{
"width": 339, "height": 512.7,
"title": {"text": "Value trials", "anchor": "middle", "frame": "group", "fontSize": 21, "fontWeight": "normal", "color": "#000", "offset": 7},
"resolve": {"scale": {"color": "independent"}},
"layer": [
{"data": {"name": "d3vbox"}, "mark": {"type": "rule", "color": "#222", "strokeWidth": 1},
 "encoding": {
  "x": {"field": "t", "type": "nominal", "scale": {"domain": ["SDL","SDR","VDL","VDR","VL","VR"], "paddingInner": 0, "paddingOuter": 0.18, "align": 0.885},
        "axis": {"title": null, "bandPosition": 0.2806, "labelAngle": -30, "labelAlign": "right", "labelBaseline": "middle", "labelFontSize": 21.5, "labelColor": "#111", "labelPadding": 12, "labelOffset": -5, "tickSize": 6, "tickColor": "#555", "domainColor": "#666", "domainWidth": 1.5, "labelExpr": "datum.value=='SDL'?'spatial distance left':datum.value=='SDR'?'spatial distance right':datum.value=='VDL'?'value difference left':datum.value=='VDR'?'value difference right':datum.value=='VL'?'value left':'value right'"}},
  "xOffset": {"datum": "box", "scale": {"domain": ["box","dots"], "paddingInner": 0, "paddingOuter": 0.14}},
  "y": {"field": "lo", "type": "quantitative", "scale": {"domain": [-3, 2.81], "range": [512.7, 18.7], "nice": false, "zero": false},
        "axis": {"title": null, "labels": false, "ticks": false, "domainColor": "#666", "domainWidth": 2}},
  "y2": {"field": "q1"}}},
{"data": {"name": "d3vbox"}, "mark": {"type": "rule", "color": "#222", "strokeWidth": 1},
 "encoding": {"x": {"field": "t", "type": "nominal"}, "xOffset": {"datum": "box"}, "y": {"field": "q3", "type": "quantitative"}, "y2": {"field": "hi"}}},
{"data": {"name": "d3vbox"}, "mark": {"type": "tick", "color": "#222", "size": 12, "thickness": 1, "opacity": 1},
 "encoding": {"x": {"field": "t", "type": "nominal"}, "xOffset": {"datum": "box"}, "y": {"field": "lo", "type": "quantitative"}}},
{"data": {"name": "d3vbox"}, "mark": {"type": "tick", "color": "#222", "size": 12, "thickness": 1, "opacity": 1},
 "encoding": {"x": {"field": "t", "type": "nominal"}, "xOffset": {"datum": "box"}, "y": {"field": "hi", "type": "quantitative"}}},
{"data": {"name": "d3vbox"}, "mark": {"type": "bar", "stroke": "#222", "strokeWidth": 1, "opacity": 1},
 "encoding": {"x": {"field": "t", "type": "nominal"}, "xOffset": {"datum": "box"}, "y": {"field": "q1", "type": "quantitative"}, "y2": {"field": "q3"},
  "fill": {"field": "sig", "type": "nominal", "scale": {"domain": ["yes","no"], "range": ["#aa0000","#ffffff"]}, "legend": null}}},
{"data": {"name": "d3vbox"}, "mark": {"type": "tick", "color": "#222", "size": 24, "thickness": 1, "opacity": 1},
 "encoding": {"x": {"field": "t", "type": "nominal"}, "xOffset": {"datum": "box"}, "y": {"field": "med", "type": "quantitative"}}},
{"data": {"name": "d3vout"}, "mark": {"type": "point", "shape": "M-1,0H1M0,-1V1", "size": 225, "stroke": "#222", "strokeWidth": 1, "filled": false, "opacity": 1},
 "encoding": {"x": {"field": "t", "type": "nominal"}, "xOffset": {"datum": "box"}, "y": {"field": "v", "type": "quantitative"}}},
{"data": {"name": "d3vdots"}, "transform": [{"lookup": "t", "from": {"data": {"name": "d3vbox"}, "key": "t", "fields": ["sig"]}}],
 "mark": {"type": "circle", "size": 135, "opacity": 0.5},
 "encoding": {"x": {"field": "t", "type": "nominal"}, "xOffset": {"datum": "dots"}, "y": {"field": "v", "type": "quantitative"},
  "color": {"field": "sig", "type": "nominal", "scale": {"domain": ["yes","no"], "range": ["#c83232","#969696"]}, "legend": null}}},
{"data": {"values": [{"ref": 0}]}, "mark": {"type": "rule", "color": "#333", "strokeWidth": 1},
 "encoding": {"y": {"field": "ref", "type": "quantitative"}}},
{"data": {"name": "d3vstars"}, "mark": {"type": "text", "fontSize": 20, "fontWeight": "bold", "baseline": "middle"},
 "encoding": {"x": {"field": "t", "type": "nominal"}, "xOffset": {"field": "pos"}, "y": {"datum": 2.79}, "text": {"field": "s"},
  "color": {"field": "pos", "type": "nominal", "scale": {"domain": ["box","dots"], "range": ["#000000","#e07878"]}, "legend": null}}}
]
}
]
}
]
}
]
}
